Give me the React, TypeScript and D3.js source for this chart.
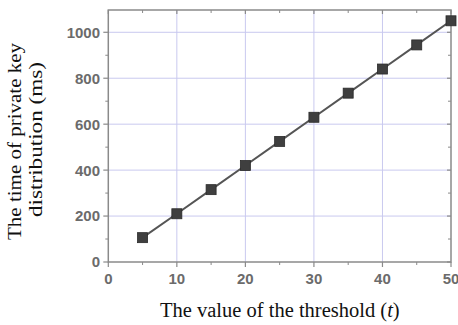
import React from "react";
import * as d3 from "d3";

const thresholds = [5, 10, 15, 20, 25, 30, 35, 40, 45, 50];
const timesMs = [106, 210, 315, 420, 525, 630, 735, 840, 945, 1050];
const xTicks = [0, 10, 20, 30, 40, 50];
const xMinor = [5, 15, 25, 35, 45];
const yTicks = [0, 200, 400, 600, 800, 1000];
const yMinor = [100, 300, 500, 700, 900];

const W = 458;
const H = 325;
const L = 108.3;
const R = 451;
const T = 10;
const B = 262;

export default function App() {
  const x = d3.scaleLinear().domain([0, 50]).range([L, R]);
  const y = d3.scaleLinear().domain([0, 1097]).range([B, T]);
  const line = d3
    .line<number>()
    .x((_, i) => x(thresholds[i]))
    .y((d) => y(d));
  const axisColor = "#8a8a8a";
  const labelColor = "#6b6b6b";
  const grid = "#c9c9ef";
  return (
    <svg
      width={W}
      height={H}
      style={{ position: "absolute", left: 0, top: 0, background: "#fff" }}
    >
      {/* gridlines */}
      {xTicks.slice(1, -1).map((t) => (
        <line key={"gx" + t} x1={x(t)} x2={x(t)} y1={T} y2={B} stroke={grid} strokeWidth={1} />
      ))}
      {yTicks.slice(1).map((t) => (
        <line key={"gy" + t} x1={L} x2={R} y1={y(t)} y2={y(t)} stroke={grid} strokeWidth={1} />
      ))}
      {/* frame */}
      <rect x={L} y={T} width={R - L} height={B - T} fill="none" stroke={axisColor} strokeWidth={1.5} />
      {/* bottom ticks outward, top ticks inward */}
      {xTicks.map((t) => (
        <g key={"xt" + t}>
          <line x1={x(t)} x2={x(t)} y1={B} y2={B + 5} stroke={axisColor} strokeWidth={1.2} />
          <line x1={x(t)} x2={x(t)} y1={T} y2={T + 4} stroke={axisColor} strokeWidth={1.2} />
          <text
            x={x(t)}
            y={283.5}
            textAnchor="middle"
            fontFamily="Liberation Sans, Arial, sans-serif"
            fontWeight="bold"
            fontSize={15}
            fill={labelColor}
          >
            {t}
          </text>
        </g>
      ))}
      {xMinor.map((t) => (
        <g key={"xm" + t}>
          <line x1={x(t)} x2={x(t)} y1={B} y2={B + 3} stroke={axisColor} strokeWidth={1} />
          <line x1={x(t)} x2={x(t)} y1={T} y2={T + 3} stroke={axisColor} strokeWidth={1} />
        </g>
      ))}
      {yTicks.map((t) => (
        <g key={"yt" + t}>
          <line x1={L - 5} x2={L} y1={y(t)} y2={y(t)} stroke={axisColor} strokeWidth={1.2} />
          <line x1={R - 4} x2={R} y1={y(t)} y2={y(t)} stroke={axisColor} strokeWidth={1.2} />
          <text
            x={100}
            y={y(t)}
            dy="0.36em"
            textAnchor="end"
            fontFamily="Liberation Sans, Arial, sans-serif"
            fontWeight="bold"
            fontSize={15}
            fill={labelColor}
          >
            {t}
          </text>
        </g>
      ))}
      {yMinor.map((t) => (
        <g key={"ym" + t}>
          <line x1={L - 3} x2={L} y1={y(t)} y2={y(t)} stroke={axisColor} strokeWidth={1} />
          <line x1={R - 3} x2={R} y1={y(t)} y2={y(t)} stroke={axisColor} strokeWidth={1} />
        </g>
      ))}
      {/* data line */}
      <path d={line(timesMs) || ""} fill="none" stroke="#555" strokeWidth={2} />
      {timesMs.map((v, i) => (
        <rect
          key={"m" + i}
          x={x(thresholds[i]) - 5}
          y={y(v) - 5}
          width={10}
          height={10}
          fill="#3f3f3f"
          stroke="#2a2a2a"
          strokeWidth={0.8}
        />
      ))}
      {/* y title */}
      <g fontFamily="Liberation Serif, Times New Roman, serif" fontSize={19.5} fill="#111">
        <text
          transform="translate(21,141.5) rotate(-90)"
          textAnchor="middle"
          textLength={197}
          lengthAdjust="spacingAndGlyphs"
        >
          The time of private key
        </text>
        <text
          transform="translate(42,139.5) rotate(-90)"
          textAnchor="middle"
          textLength={155}
          lengthAdjust="spacingAndGlyphs"
        >
          distribution (ms)
        </text>
      </g>
      {/* x title */}
      <text
        x={160}
        y={317}
        fontFamily="Liberation Serif, Times New Roman, serif"
        fontSize={20.5}
        fill="#111"
      >
        The value of the threshold (<tspan fontStyle="italic">t</tspan>)
      </text>
    </svg>
  );
}
